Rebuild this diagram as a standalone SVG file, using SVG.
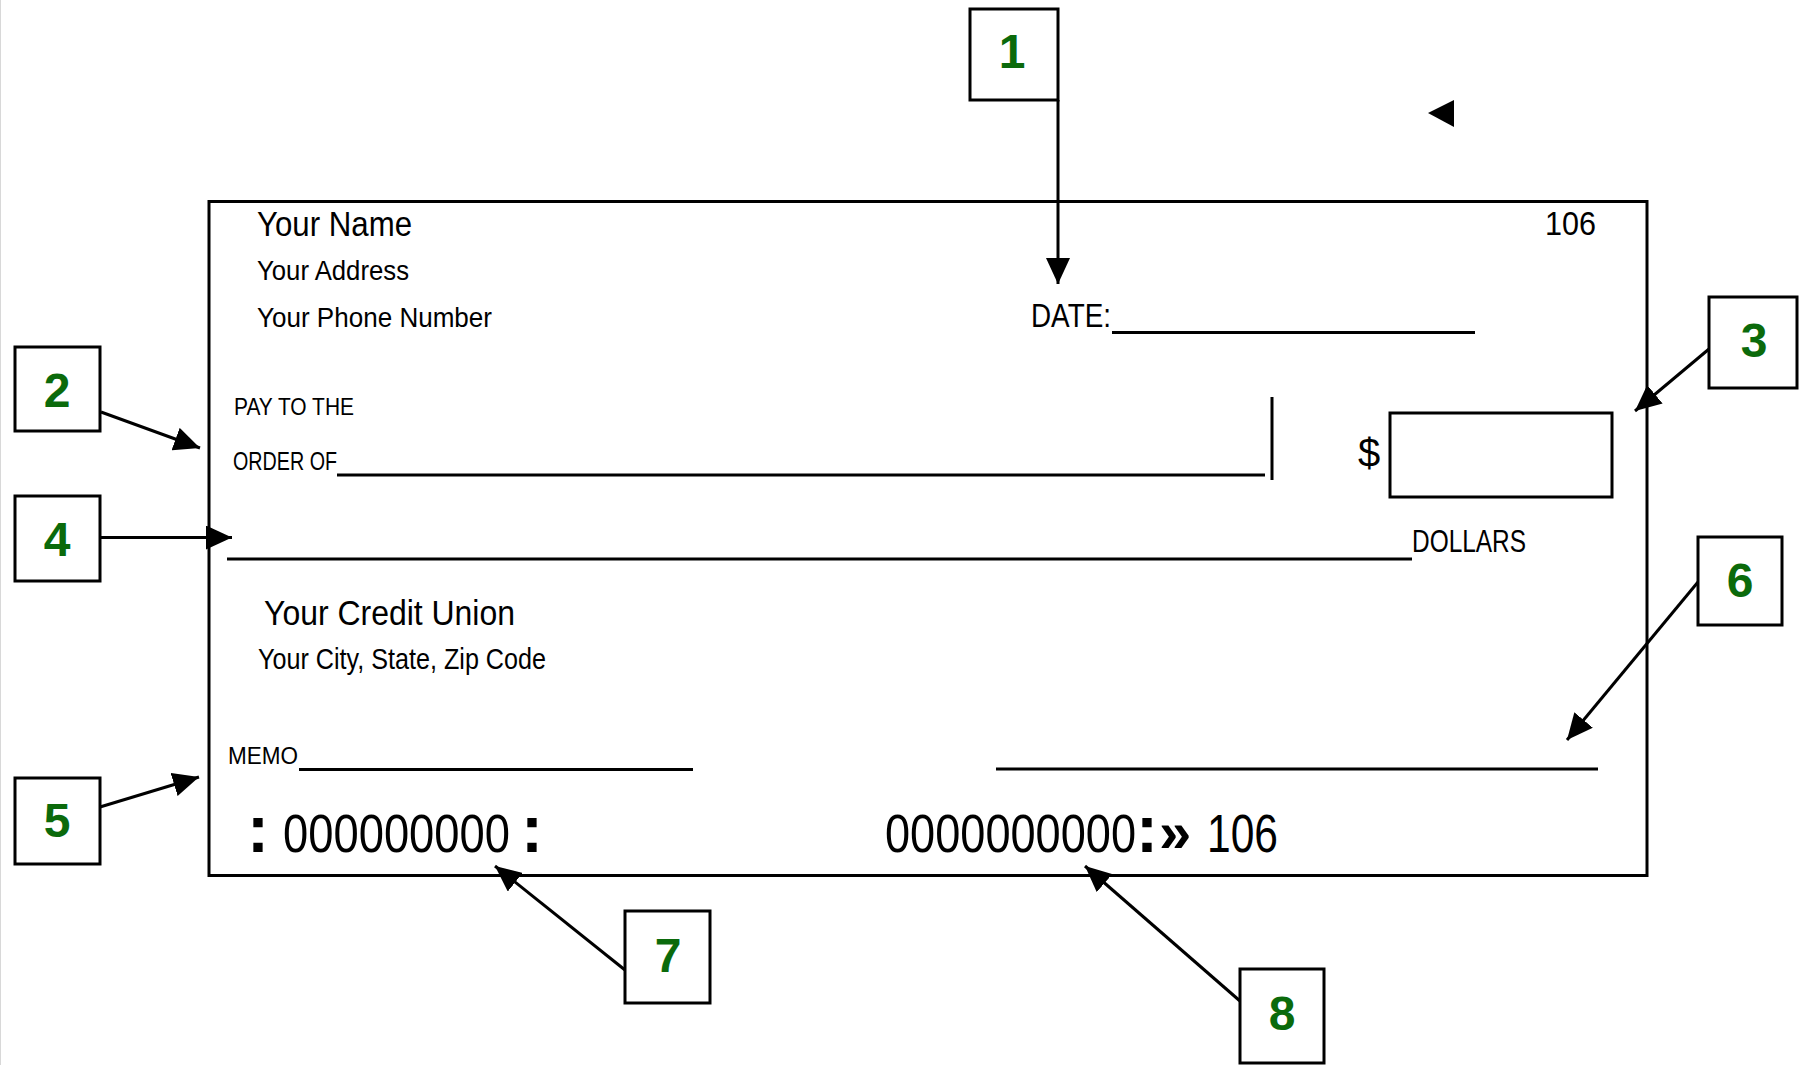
<svg xmlns="http://www.w3.org/2000/svg" width="1816" height="1065" viewBox="0 0 1816 1065">
  <style>
    .frame { fill: none; stroke: #000; stroke-width: 3; }
    .rule { stroke: #000; stroke-width: 3; }
    .conn { stroke: #000; stroke-width: 3; fill: none; }
    .t { font-family: "Liberation Sans", Arial, sans-serif; fill: #000; }
    .num { font-family: "Liberation Sans", Arial, sans-serif; font-weight: bold; font-size: 48px; fill: #0b6a0b; text-anchor: middle; }
    .micr { font-family: "Liberation Sans", Arial, sans-serif; font-size: 53px; fill: #000; }
    .colon { font-weight: bold; font-size: 66px; }
    .guil { font-weight: bold; font-size: 58px; }
  </style>
  <defs>
    <marker id="head" markerUnits="userSpaceOnUse" markerWidth="26" markerHeight="24" refX="26" refY="12" orient="auto">
      <path d="M0,0 L26,12 L0,24 z" fill="#000"/>
    </marker>
  </defs>

  <rect width="1816" height="1065" fill="#fff"/>
  <line x1="0.5" y1="0" x2="0.5" y2="1065" stroke="#d8d8d8" stroke-width="1"/>

  <!-- the cheque -->
  <g id="check">
    <rect class="frame" x="209" y="201.5" width="1438" height="674"/>

    <text class="t" x="257" y="236" font-size="35" textLength="155" lengthAdjust="spacingAndGlyphs">Your Name</text>
    <text class="t" x="257" y="280" font-size="28" textLength="152" lengthAdjust="spacingAndGlyphs">Your Address</text>
    <text class="t" x="257" y="327" font-size="28" textLength="235" lengthAdjust="spacingAndGlyphs">Your Phone Number</text>
    <text class="t" x="1545" y="235" font-size="33" textLength="51" lengthAdjust="spacingAndGlyphs">106</text>

    <text class="t" x="1031" y="327" font-size="34" textLength="80" lengthAdjust="spacingAndGlyphs">DATE:</text>
    <line class="rule" x1="1112" y1="332.5" x2="1475" y2="332.5"/>

    <text class="t" x="234" y="415" font-size="24" textLength="120" lengthAdjust="spacingAndGlyphs">PAY TO THE</text>
    <text class="t" x="233" y="470" font-size="25" textLength="104" lengthAdjust="spacingAndGlyphs">ORDER OF</text>
    <line class="rule" x1="337" y1="475" x2="1265" y2="475"/>
    <line class="rule" x1="1272" y1="397" x2="1272" y2="480"/>

    <text class="t" x="1358" y="467" font-size="40">$</text>
    <rect class="frame" x="1390" y="413" width="222" height="84"/>

    <line class="rule" x1="227" y1="559" x2="1412" y2="559"/>
    <text class="t" x="1412" y="552" font-size="31" textLength="114" lengthAdjust="spacingAndGlyphs">DOLLARS</text>

    <text class="t" x="264" y="625" font-size="35" textLength="251" lengthAdjust="spacingAndGlyphs">Your Credit Union</text>
    <text class="t" x="258" y="669" font-size="29" textLength="288" lengthAdjust="spacingAndGlyphs">Your City, State, Zip Code</text>

    <text class="t" x="228" y="764" font-size="24" textLength="70" lengthAdjust="spacingAndGlyphs">MEMO</text>
    <line class="rule" x1="299" y1="769.5" x2="693" y2="769.5"/>
    <line class="rule" x1="996" y1="769" x2="1598" y2="769"/>

    <!-- MICR line: routing number, then account number and cheque number -->
    <text class="micr" y="852"><tspan class="colon" x="247">:</tspan><tspan x="283" textLength="227" lengthAdjust="spacingAndGlyphs">000000000</tspan><tspan class="colon" x="521">:</tspan></text>
    <text class="micr" y="852"><tspan x="885" textLength="251" lengthAdjust="spacingAndGlyphs">0000000000</tspan><tspan class="colon" x="1136">:</tspan><tspan class="guil" x="1159">»</tspan><tspan x="1207" textLength="71" lengthAdjust="spacingAndGlyphs">106</tspan></text>
  </g>

  <!-- loose arrowhead near the top -->
  <polygon points="1428,113 1454,100 1454,127" fill="#000"/>

  <!-- numbered callouts -->
  <g id="n1"><rect class="frame" x="970" y="9" width="88" height="91"/><text class="num" x="1012" y="68">1</text></g>
  <g id="n2"><rect class="frame" x="15" y="347" width="85" height="84"/><text class="num" x="57" y="407">2</text></g>
  <g id="n3"><rect class="frame" x="1709" y="297" width="88" height="91"/><text class="num" x="1754" y="357">3</text></g>
  <g id="n4"><rect class="frame" x="15" y="496" width="85" height="85"/><text class="num" x="57" y="556">4</text></g>
  <g id="n5"><rect class="frame" x="15" y="778" width="85" height="86"/><text class="num" x="57" y="837">5</text></g>
  <g id="n6"><rect class="frame" x="1698" y="537" width="84" height="88"/><text class="num" x="1740" y="597">6</text></g>
  <g id="n7"><rect class="frame" x="625" y="911" width="85" height="92"/><text class="num" x="668" y="972">7</text></g>
  <g id="n8"><rect class="frame" x="1240" y="969" width="84" height="94"/><text class="num" x="1282" y="1030">8</text></g>

  <!-- connectors -->
  <g id="connectors">
    <line class="conn" x1="1058" y1="100" x2="1058" y2="284" marker-end="url(#head)"/>
    <line class="conn" x1="101" y1="412" x2="200" y2="448" marker-end="url(#head)"/>
    <line class="conn" x1="1709" y1="349" x2="1635" y2="411" marker-end="url(#head)"/>
    <line class="conn" x1="100" y1="537.5" x2="232" y2="537.5" marker-end="url(#head)"/>
    <line class="conn" x1="100" y1="807" x2="199" y2="777" marker-end="url(#head)"/>
    <line class="conn" x1="1698" y1="582" x2="1567" y2="740" marker-end="url(#head)"/>
    <line class="conn" x1="625" y1="970" x2="495" y2="866" marker-end="url(#head)"/>
    <line class="conn" x1="1240" y1="1001" x2="1085" y2="866" marker-end="url(#head)"/>
  </g>
</svg>
